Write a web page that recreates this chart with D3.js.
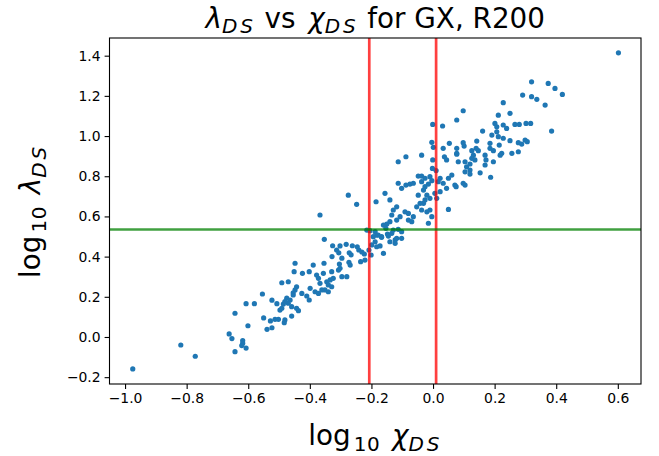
<!DOCTYPE html>
<html>
<head>
<meta charset="utf-8">
<script src="https://cdn.jsdelivr.net/npm/d3@7"></script>
<style>
body { margin: 0; background: #fff; }
text { font-family: "DejaVu Sans", sans-serif; }
</style>
</head>
<body>
<div class="chart"></div>
<script>
// log10 chi_DS (x) and log10 lambda_DS (y)
const chiDS = [
	-0.975,-0.819,-0.772,-0.643,-0.607,-0.580,-0.554,-0.523,-0.507,-0.550,-0.528,-0.513,-0.502,-0.601,-0.539,-0.523,-0.662,-0.653,-0.618,-0.618,-0.621,-0.607,-0.643,
	-0.497,-0.491,-0.486,-0.475,-0.464,-0.470,-0.459,-0.443,-0.437,-0.459,-0.481,-0.483,-0.443,-0.448,-0.426,-0.454,-0.491,-0.470,
	-0.353,-0.326,-0.302,-0.282,-0.313,-0.306,-0.262,-0.246,-0.241,-0.231,-0.223,-0.272,-0.266,-0.328,-0.296,-0.273,-0.269,-0.235,-0.221,
	-0.194,-0.183,-0.167,-0.148,-0.140,-0.123,-0.199,-0.183,-0.161,-0.172,-0.208,-0.201,
	-0.448,-0.389,-0.354,-0.304,-0.302,-0.307,-0.451,-0.424,-0.402,-0.378,-0.356,-0.329,-0.296,-0.280,
	-0.372,-0.367,-0.345,-0.334,-0.324,-0.340,-0.329,-0.351,-0.340,-0.399,-0.383,-0.361,-0.372,-0.410,-0.402,-0.454,-0.481,
	-0.088,-0.037,0.037,0.044,0.077,0.082,0.104,0.109,0.104,0.120,-0.113,-0.001,0.010,-0.002,
	-0.048,-0.037,-0.026,-0.010,-0.037,-0.004,-0.015,0.017,0.033,0.050,0.061,0.071,0.098,
	-0.113,-0.102,-0.075,-0.064,-0.156,-0.140,-0.185,-0.248,
	-0.026,-0.031,-0.020,-0.010,-0.026,-0.031,0.006,0.012,0.023,0.044,-0.042,-0.048,-0.053,-0.037,-0.020,-0.010,-0.015,-0.004,0.050,
	-0.118,-0.129,-0.091,-0.080,-0.107,-0.118,-0.080,-0.064,-0.069,-0.134,-0.140,-0.150,-0.153,-0.161,
	-0.113,-0.102,-0.129,-0.134,-0.215,-0.205,-0.188,-0.178,-0.167,-0.145,-0.118,-0.102,-0.123,-0.188,
	-0.275,-0.367,-0.088,
	0.320,0.374,0.396,0.291,0.320,0.337,0.364,0.385,0.228,0.098,0.250,0.212,0.077,0.031,-0.001,
	0.201,0.207,0.228,0.239,0.266,0.280,0.302,0.317,0.161,0.191,0.207,0.212,0.228,0.250,0.277,0.299,0.306,0.288,
	0.053,0.098,0.101,0.142,0.140,0.147,0.185,0.185,0.196,0.215,0.223,0.218,0.077,0.077,0.126,0.131,0.126,0.120,0.136,
	0.256,0.277,0.120,0.169,0.172,0.196,0.169,0.153,0.187,0.023,0.075,0.104,
	0.420,0.602,-0.004,0.001,0.033
];
const lambdaDS = [
	-0.159,-0.040,-0.096,0.118,0.166,0.166,0.214,0.183,0.166,0.095,0.080,0.088,0.088,0.056,0.038,0.046,0.015,-0.008,-0.018,-0.031,-0.043,-0.055,-0.073,
	0.134,0.143,0.164,0.193,0.184,0.168,0.151,0.143,0.131,0.104,0.085,0.071,0.250,0.234,0.217,0.220,0.270,0.275,
	0.486,0.454,0.453,0.461,0.433,0.419,0.454,0.449,0.433,0.423,0.413,0.419,0.409,0.400,0.392,0.372,0.358,0.375,0.383,
	0.499,0.507,0.499,0.512,0.474,0.483,0.458,0.449,0.416,0.453,0.433,0.408,
	0.367,0.358,0.367,0.363,0.342,0.333,0.325,0.317,0.325,0.308,0.317,0.325,0.300,0.300,
	0.292,0.267,0.275,0.284,0.292,0.259,0.250,0.234,0.225,0.242,0.225,0.234,0.217,0.204,0.184,0.209,0.176,
	0.897,0.905,0.897,0.881,0.914,0.872,0.872,0.847,0.822,0.831,0.872,0.881,0.828,0.839,
	0.801,0.801,0.790,0.798,0.773,0.778,0.761,0.773,0.765,0.790,0.806,0.756,0.765,
	0.765,0.740,0.761,0.765,0.715,0.682,0.673,0.660,
	0.748,0.731,0.706,0.690,0.682,0.665,0.715,0.690,0.723,0.740,0.665,0.706,0.648,0.632,0.623,0.632,0.566,0.599,0.635,
	0.648,0.632,0.623,0.615,0.599,0.582,0.582,0.599,0.574,0.607,0.574,0.562,0.541,0.557,
	0.536,0.524,0.532,0.516,0.532,0.529,0.524,0.507,0.496,0.502,0.491,0.491,0.466,0.474,
	0.706,0.607,0.756,
	1.270,1.262,1.237,1.204,1.196,1.183,1.154,1.025,1.166,1.126,1.113,1.104,1.080,1.050,1.058,
	1.063,1.046,1.055,1.038,1.058,1.058,1.063,1.063,1.025,1.005,1.021,0.997,0.989,0.977,0.967,0.980,0.972,0.960,
	0.964,0.967,0.950,0.975,0.939,0.927,0.964,0.939,0.927,0.955,0.914,0.905,0.939,0.910,0.927,0.905,0.889,0.861,0.881,
	0.914,0.922,0.811,0.905,0.881,0.872,0.856,0.817,0.795,0.790,0.748,0.756,
	1.207,1.414,0.969,0.944,0.939
];
const chiCuts = [-0.207, 0.010];
const lambdaCut = 0.535;
const xTicks = [-1.0, -0.8, -0.6, -0.4, -0.2, 0.0, 0.2, 0.4, 0.6];
const yTicks = [-0.2, 0.0, 0.2, 0.4, 0.6, 0.8, 1.0, 1.2, 1.4];

const data = chiDS.map((c, i) => ({chi: c, lam: lambdaDS[i]}));

const W = 659, H = 456;
const margin = ({top: 38, right: 18, bottom: 72, left: 109.5});
const width = W - margin.left - margin.right;
const height = H - margin.top - margin.bottom;

const svg = d3.select(".chart")
	.append("svg")
	.attr("width", W)
	.attr("height", H);

const g = svg.append("g")
	.attr("transform", `translate(${margin.left},${margin.top})`);

const xScale = d3.scaleLinear()
	.domain([-1.0505, 0.6753])
	.range([0, width]);

const yScale = d3.scaleLinear()
	.domain([-0.234, 1.488])
	.range([height, 0]);

const fmt = v => d3.format(".1f")(v).replace("-", "\u2212");

const xAxis = d3.axisBottom(xScale)
	.tickValues(xTicks)
	.tickFormat(fmt)
	.tickSize(4.9)
	.tickPadding(4)
	.tickSizeOuter(0);

const yAxis = d3.axisLeft(yScale)
	.tickValues(yTicks)
	.tickFormat(fmt)
	.tickSize(4.9)
	.tickPadding(4)
	.tickSizeOuter(0);

g.append("g")
	.attr("class", "axis x-axis")
	.attr("transform", `translate(0,${height})`)
	.call(xAxis);

g.append("g")
	.attr("class", "axis y-axis")
	.call(yAxis);

g.selectAll(".axis .domain").remove();
g.selectAll(".axis line").attr("stroke", "#000").attr("stroke-width", 1.1);
g.selectAll(".axis text")
	.attr("font-size", "13.9px")
	.attr("fill", "#000")
	.style("font-family", "'DejaVu Sans', sans-serif");

// clip for the plot area
svg.append("defs").append("clipPath").attr("id", "clip")
	.append("rect").attr("width", width).attr("height", height);

const plot = g.append("g").attr("clip-path", "url(#clip)");

plot.selectAll("circle")
	.data(data)
	.enter()
	.append("circle")
	.attr("cx", d => xScale(d.chi))
	.attr("cy", d => yScale(d.lam))
	.attr("r", 2.6)
	.attr("fill", "#1f77b4");

// cut lines
plot.selectAll(".vline")
	.data(chiCuts)
	.enter()
	.append("line")
	.attr("class", "vline")
	.attr("x1", d => xScale(d)).attr("x2", d => xScale(d))
	.attr("y1", 0).attr("y2", height)
	.attr("stroke", "red")
	.attr("stroke-opacity", 0.75)
	.attr("stroke-width", 2.7);

plot.append("line")
	.attr("x1", 0).attr("x2", width)
	.attr("y1", yScale(lambdaCut)).attr("y2", yScale(lambdaCut))
	.attr("stroke", "green")
	.attr("stroke-opacity", 0.75)
	.attr("stroke-width", 2.7);

// frame
g.append("rect")
	.attr("width", width)
	.attr("height", height)
	.attr("fill", "none")
	.attr("stroke", "#000")
	.attr("stroke-width", 1.1);

// mathtext-ish subscript helper
function sub(t, s, italic) {
	t.append("tspan")
		.attr("font-style", italic ? "italic" : "normal")
		.attr("font-size", "20px")
		.attr("letter-spacing", italic ? "2.8px" : "0.5px")
		.attr("dx", italic ? 0 : 3)
		.attr("dy", 5.5)
		.text(s);
}

// title
const title = svg.append("text")
	.attr("x", margin.left + width / 2)
	.attr("y", 27.5)
	.attr("text-anchor", "middle")
	.attr("font-size", "27.8px")
	.attr("fill", "#000");
title.append("tspan").attr("font-style", "italic").text("\u03bb");
sub(title, "DS", true);
title.append("tspan").attr("dy", -5.5).text(" vs ");
title.append("tspan").attr("font-style", "italic").attr("dx", 4).text("\u03c7");
sub(title, "DS", true);
title.append("tspan").attr("dy", -5.5).text(" for GX, R200");

// x label
const xl = svg.append("text")
	.attr("x", margin.left + width / 2)
	.attr("y", 445)
	.attr("text-anchor", "middle")
	.attr("font-size", "27.8px")
	.attr("fill", "#000");
xl.append("tspan").text("log");
sub(xl, "10", false);
xl.append("tspan").attr("dy", -5.5).text(" ");
xl.append("tspan").attr("font-style", "italic").attr("dx", 3).text("\u03c7");
sub(xl, "DS", true);

// y label
const yl = svg.append("text")
	.attr("transform", `translate(40,${margin.top + height / 2}) rotate(-90)`)
	.attr("text-anchor", "middle")
	.attr("font-size", "27.8px")
	.attr("fill", "#000");
yl.append("tspan").text("log");
sub(yl, "10", false);
yl.append("tspan").attr("dy", -5.5).text(" ");
yl.append("tspan").attr("font-style", "italic").attr("dx", 3).text("\u03bb");
sub(yl, "DS", true);
</script>
</body>
</html>
